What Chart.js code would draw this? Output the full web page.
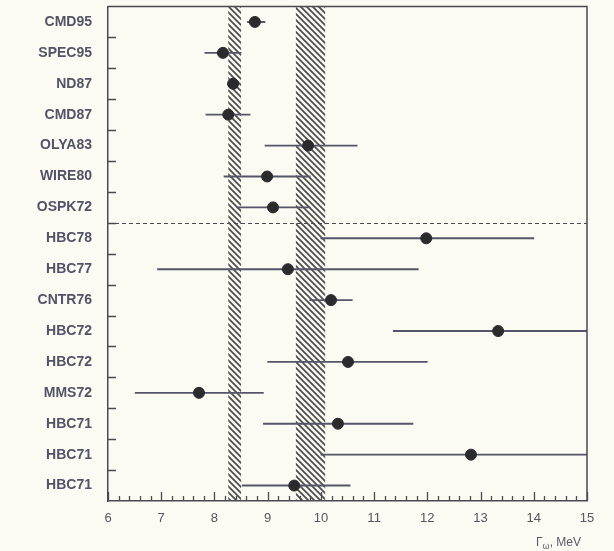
<!DOCTYPE html>
<html>
<head>
<meta charset="utf-8">
<script src="https://cdn.jsdelivr.net/npm/chart.js@4.4.0/dist/chart.umd.min.js"></script>
<style>
    html, body { margin: 0; padding: 0; background: #fbfaf3; }
    #wrap { position: relative; width: 614px; height: 551px; }
    #xtitle {
        position: absolute; left: 536px; top: 535px;
        font: 12px "Liberation Sans", sans-serif; color: #5a5a66;
    }
    #xtitle sub { font-size: 9px; }
</style>
</head>
<body>
<div id="wrap">
    <canvas id="chart1" width="614" height="551"></canvas>
    <div id="xtitle">Γ<sub>ω</sub>, MeV</div>
</div>
<script>
// --- data ---
const experiments = ['CMD95', 'SPEC95', 'ND87', 'CMD87', 'OLYA83', 'WIRE80', 'OSPK72', 'HBC78',
    'HBC77', 'CNTR76', 'HBC72', 'HBC72', 'MMS72', 'HBC71', 'HBC71', 'HBC71'];
const widths  = [8.76, 8.16, 8.35, 8.26, 9.76, 8.99, 9.10, 11.98, 9.38, 10.19, 13.33, 10.51, 7.71, 10.32, 12.82, 9.50];
const errLow  = [8.62, 7.82, 8.25, 7.84, 8.95, 8.18, 8.42, 10.00, 6.93, 9.79, 11.36, 9.00, 6.51, 8.92, 10.00, 8.52];
const errHigh = [8.95, 8.50, 8.45, 8.67, 10.68, 9.80, 9.80, 14.00, 11.83, 10.59, 15.30, 12.00, 8.92, 11.73, 15.60, 10.55];

// hatched bands
const bandLow  = [8.26, 9.53];
const bandHigh = [8.50, 10.08];

// dashed line sits below this row
const separatorAfter = 6;

const xMin = 6, xMax = 15;

// --- hatch pattern ---
function makeHatch() {
    const c = document.createElement('canvas');
    c.width = 6; c.height = 6;
    const g = c.getContext('2d');
    g.strokeStyle = '#505050';
    g.lineWidth = 1.8;
    g.beginPath();
    g.moveTo(-1, -1); g.lineTo(7, 7);
    g.moveTo(-1, 5); g.lineTo(1, 7);
    g.moveTo(5, -1); g.lineTo(7, 1);
    g.stroke();
    return c;
}

const framePlugin = {
    id: 'frame',
    beforeDatasetsDraw(chart) {
        const {ctx, chartArea, scales} = chart;
        const pat = ctx.createPattern(makeHatch(), 'repeat');
        ctx.save();
        ctx.fillStyle = pat;
        for (let i = 0; i < bandLow.length; i++) {
            const x0 = scales.x.getPixelForValue(bandLow[i]);
            const x1 = scales.x.getPixelForValue(bandHigh[i]);
            ctx.fillRect(x0, chartArea.top, x1 - x0, chartArea.bottom - chartArea.top);
        }
        ctx.restore();
    },
    afterDraw(chart) {
        const {ctx, chartArea, scales} = chart;
        const {left, right, top, bottom} = chartArea;
        ctx.save();
        ctx.strokeStyle = '#4a4a52';
        ctx.lineWidth = 1.3;

        // x ticks, pointing inward
        ctx.beginPath();
        for (let k = 0; k <= (xMax - xMin) * 5; k++) {
            const v = xMin + k * 0.2;
            const x = Math.round(scales.x.getPixelForValue(v)) + 0.5;
            const len = (k % 5 === 0) ? 9 : 5;
            ctx.moveTo(x, bottom);
            ctx.lineTo(x, bottom - len);
        }
        // y ticks at row boundaries
        for (let i = 0; i < experiments.length - 1; i++) {
            const y = (scales.y.getPixelForValue(i) + scales.y.getPixelForValue(i + 1)) / 2;
            ctx.moveTo(left, Math.round(y) + 0.5);
            ctx.lineTo(left + 8, Math.round(y) + 0.5);
        }
        ctx.stroke();

        // frame top / right
        ctx.lineWidth = 1.5;
        ctx.beginPath();
        ctx.moveTo(left, top);
        ctx.lineTo(right, top);
        ctx.lineTo(right, bottom);
        ctx.stroke();

        // dashed separator
        const ys = (scales.y.getPixelForValue(separatorAfter) + scales.y.getPixelForValue(separatorAfter + 1)) / 2;
        ctx.setLineDash([4, 3]);
        ctx.lineWidth = 1.2;
        ctx.beginPath();
        ctx.moveTo(left, Math.round(ys) + 0.5);
        ctx.lineTo(right, Math.round(ys) + 0.5);
        ctx.stroke();
        ctx.restore();
    }
};

const ctx1 = document.getElementById('chart1').getContext('2d');

const data1 = {
    labels: experiments,
    datasets: [
        {
            type: 'line',
            label: 'width',
            data: widths,
            indexAxis: 'y',
            showLine: false,
            pointRadius: 5.5,
            pointBackgroundColor: '#2b2b2e',
            pointBorderColor: '#2b2b2e',
            order: 0
        },
        {
            type: 'bar',
            label: 'error',
            data: errLow.map((l, i) => [l, errHigh[i]]),
            backgroundColor: '#55556a',
            barThickness: 1.2,
            order: 1
        }
    ]
};

const config1 = {
    type: 'bar',
    data: data1,
    options: {
        indexAxis: 'y',
        animation: false,
        responsive: false,
        layout: { padding: { top: 2, right: 27, left: 0, bottom: 0 } },
        plugins: { legend: { display: false }, tooltip: { enabled: false } },
        scales: {
            x: {
                type: 'linear',
                min: xMin,
                max: xMax,
                afterFit: (s) => { s.height = 50; s.paddingLeft = 0; s.paddingRight = 0; },
                ticks: {
                    stepSize: 1,
                    padding: 10,
                    color: '#55555f',
                    font: { family: 'Liberation Sans', size: 13 }
                },
                grid: { drawOnChartArea: false, drawTicks: false },
                border: { color: '#4a4a52', width: 1.5 }
            },
            y: {
                type: 'category',
                labels: experiments,
                offset: true,
                afterFit: (s) => { s.width = 108; s.paddingTop = 0; s.paddingBottom = 0; },
                ticks: {
                    padding: 16,
                    color: '#535366',
                    font: { family: 'Liberation Sans', size: 14, weight: 'bold' }
                },
                grid: { drawOnChartArea: false, drawTicks: false, offset: true },
                border: { color: '#4a4a52', width: 1.5 }
            }
        }
    },
    plugins: [framePlugin]
};

const chart1 = new Chart(ctx1, config1);
</script>
</body>
</html>
